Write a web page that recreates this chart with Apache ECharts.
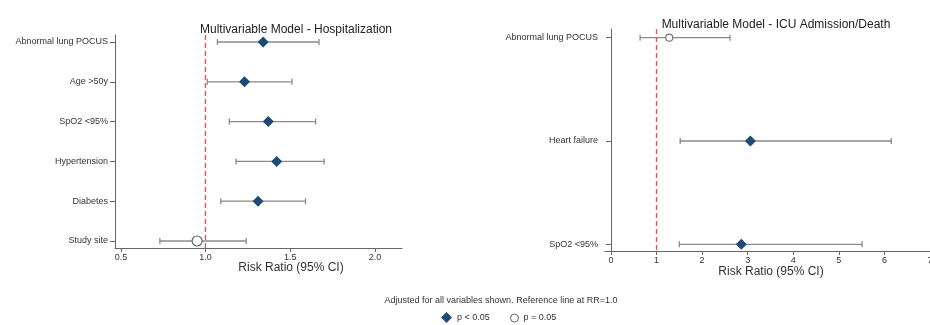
<!DOCTYPE html>
<html><head><meta charset="utf-8">
<script src="https://cdn.jsdelivr.net/npm/echarts@6/dist/echarts.min.js"></script>
<style>html,body{margin:0;padding:0;background:#fff}#c{width:930px;height:325px}</style>
</head><body><div id="c"></div>
<script>
// ---- Data ----
var hospCategories = ['Abnormal lung POCUS', 'Age >50y', 'SpO2 <95%', 'Hypertension', 'Diabetes', 'Study site'];
var hospRR   = [1.34, 1.23, 1.37, 1.42, 1.31, 0.95];
var hospLow  = [1.07, 1.01, 1.14, 1.18, 1.09, 0.73];
var hospHigh = [1.67, 1.51, 1.65, 1.70, 1.59, 1.24];
var hospSig  = [true, true, true, true, true, false];
var hospTicks = [0.5, 1.0, 1.5, 2.0];

var icuCategories = ['Abnormal lung POCUS', 'Heart failure', 'SpO2 <95%'];
var icuRR   = [1.28, 3.06, 2.86];
var icuLow  = [0.64, 1.52, 1.50];
var icuHigh = [2.61, 6.15, 5.51];
var icuSig  = [false, true, true];
var icuTicks = [0, 1, 2, 3, 4, 5, 6, 7];

var titles = ['Multivariable Model - Hospitalization', 'Multivariable Model - ICU Admission/Death'];
var xName = 'Risk Ratio (95% CI)';
var footNote = 'Adjusted for all variables shown. Reference line at RR=1.0';
var legendNames = ['p < 0.05', 'p = 0.05'];
var refValue = 1.0;

// ---- Build ----
var FONT = '"Liberation Sans", Arial, sans-serif';
var NAVY = '#1b4a75';
var GREY = '#8a8a8a';

function idx(arr){ return arr.map(function(_, i){ return i + 1; }); }

function ciData(low, high){
  return low.map(function(l, i){ return [l, high[i], i + 1]; });
}
function pts(rr, sig, want){
  var out = [];
  rr.forEach(function(v, i){ if (sig[i] === want) out.push([v, i + 1]); });
  return out;
}
function renderCI(params, api){
  var a = api.coord([api.value(0), api.value(2)]);
  var b = api.coord([api.value(1), api.value(2)]);
  var h = 3;
  var st = {stroke: GREY, lineWidth: 1.3};
  return {type: 'group', children: [
    {type: 'line', shape: {x1: a[0], y1: a[1], x2: b[0], y2: b[1]}, style: st},
    {type: 'line', shape: {x1: a[0], y1: a[1]-h, x2: a[0], y2: a[1]+h}, style: st},
    {type: 'line', shape: {x1: b[0], y1: b[1]-h, x2: b[0], y2: b[1]+h}, style: st}
  ]};
}
function yAxis(gi, cats, min, max){
  var vals = idx(cats);
  return {
    gridIndex: gi, type: 'value', inverse: true, min: min, max: max,
    splitLine: {show: false},
    axisLine: {show: true, lineStyle: {color: '#666', width: 1}},
    axisTick: {show: true, length: 5, lineStyle: {color: '#666'}, customValues: vals},
    axisLabel: {show: true, margin: 7, fontSize: 9, color: '#333', fontFamily: FONT,
      customValues: vals, formatter: function(v){ return cats[Math.round(v) - 1]; }}
  };
}
function xAxis(gi, ticks, min, max, margin){
  return {
    gridIndex: gi, type: 'value', min: min, max: max,
    splitLine: {show: false},
    axisLine: {show: true, onZero: false, lineStyle: {color: '#666', width: 1}},
    axisTick: {show: true, length: 4, lineStyle: {color: '#666'}, customValues: ticks},
    axisLabel: {show: true, margin: margin, fontSize: 9, color: '#333', fontFamily: FONT,
      customValues: ticks, formatter: function(v){ return gi === 0 ? v.toFixed(1) : String(Math.round(v)); }}
  };
}
function refLine(){
  return {silent: true, symbol: 'none', label: {show: false},
    lineStyle: {color: '#ff4a4a', type: [5, 3], width: 1.3, opacity: 1},
    emphasis: {disabled: true},
    data: [{xAxis: refValue}]};
}

var option = {
  animation: false,
  backgroundColor: '#fff',
  title: [
    {text: titles[0], left: 291, top: 19, textAlign: 'center',
     textStyle: {fontSize: 12, fontWeight: 'normal', color: '#222', fontFamily: FONT}},
    {text: titles[1], left: 771, top: 14, textAlign: 'center',
     textStyle: {fontSize: 12, fontWeight: 'normal', color: '#222', fontFamily: FONT}}
  ],
  grid: [
    {left: 115, right: 528, top: 35, bottom: 77, outerBoundsMode: 'none'},
    {left: 605, right: 0, top: 29, bottom: 74, outerBoundsMode: 'none'}
  ],
  xAxis: [
    xAxis(0, hospTicks, 0.465, 2.16, 5),
    xAxis(1, icuTicks, -0.13, 7, 5.5)
  ],
  yAxis: [
    yAxis(0, hospCategories, 0.824, 6.176),
    yAxis(1, icuCategories, 0.916, 3.065)
  ],
  legend: [
    {left: 441, top: 312, padding: 0, itemGap: 4, itemWidth: 11, itemHeight: 11,
     textStyle: {fontSize: 9, color: '#333', fontFamily: FONT},
     data: [{name: legendNames[0], icon: 'diamond', itemStyle: {color: NAVY}}]},
    {left: 510, top: 313.5, padding: 0, itemWidth: 8, itemHeight: 8,
     textStyle: {fontSize: 9, color: '#333', fontFamily: FONT},
     data: [{name: legendNames[1], icon: 'circle', itemStyle: {color: '#fff', borderColor: '#666', borderWidth: 1}}]}
  ],
  graphic: [
    {type: 'text', x: 501, y: 301, style: {text: footNote, fontSize: 9, fill: '#333', fontFamily: FONT, align: 'center', verticalAlign: 'middle'}},
    {type: 'text', x: 291, y: 268, style: {text: xName, fontSize: 12, fill: '#333', fontFamily: FONT, align: 'center', verticalAlign: 'middle'}},
    {type: 'text', x: 771, y: 272, style: {text: xName, fontSize: 12, fill: '#333', fontFamily: FONT, align: 'center', verticalAlign: 'middle'}}
  ],
  series: [
    {type: 'custom', xAxisIndex: 0, yAxisIndex: 0, renderItem: renderCI, data: ciData(hospLow, hospHigh),
     encode: {x: [0, 1], y: 2}, z: 2, markLine: refLine()},
    {type: 'custom', xAxisIndex: 1, yAxisIndex: 1, renderItem: renderCI, data: ciData(icuLow, icuHigh),
     encode: {x: [0, 1], y: 2}, z: 2, markLine: refLine()},
    {name: legendNames[0], type: 'scatter', xAxisIndex: 0, yAxisIndex: 0, symbol: 'diamond', symbolSize: 11,
     itemStyle: {color: NAVY, opacity: 1}, data: pts(hospRR, hospSig, true), z: 5},
    {name: legendNames[0], type: 'scatter', xAxisIndex: 1, yAxisIndex: 1, symbol: 'diamond', symbolSize: 11,
     itemStyle: {color: NAVY, opacity: 1}, data: pts(icuRR, icuSig, true), z: 5},
    {name: legendNames[1], type: 'scatter', xAxisIndex: 0, yAxisIndex: 0, symbol: 'circle', symbolSize: 10,
     itemStyle: {color: '#fff', borderColor: '#666', borderWidth: 1.2, opacity: 1}, data: pts(hospRR, hospSig, false), z: 5},
    {name: legendNames[1], type: 'scatter', xAxisIndex: 1, yAxisIndex: 1, symbol: 'circle', symbolSize: 7,
     itemStyle: {color: '#fff', borderColor: '#777', borderWidth: 1.2, opacity: 1}, data: pts(icuRR, icuSig, false), z: 5}
  ]
};
var chart = echarts.init(document.getElementById('c'), null, {renderer: 'canvas'});
chart.setOption(option);
</script></body></html>
